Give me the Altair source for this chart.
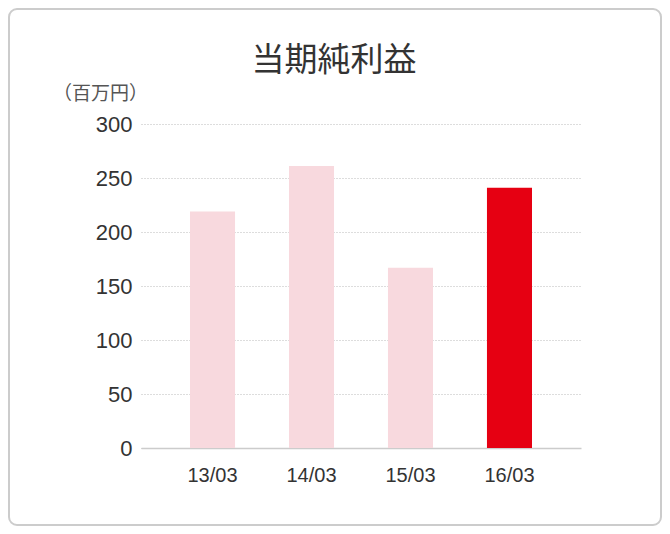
import altair as alt
import pandas as pd

# ---- data ----
periods = ["13/03", "14/03", "15/03", "16/03"]
net_income = [219, 261, 167, 241]
bar_colors = ["#f8d9de", "#f8d9de", "#f8d9de", "#e60012"]
y_ticks = [0, 50, 100, 150, 200, 250, 300]

df = pd.DataFrame({"period": periods, "value": net_income, "color": bar_colors})

W, H = 440, 324
PAD_L, PAD_T, PAD_R, PAD_B = 133, 116, 81, 78

bars = alt.Chart(df).mark_bar().encode(
    x=alt.X(
        "period:N",
        sort=periods,
        scale=alt.Scale(paddingInner=0.545, paddingOuter=0.495),
        axis=alt.Axis(
            title=None, labelAngle=0, ticks=False, tickSize=0,
            domainColor="#cccccc", domainWidth=1.5, grid=False,
            labelFont="Liberation Sans", labelFontSize=20, labelColor="#333333",
            labelPadding=33, labelBaseline="alphabetic",
        ),
    ),
    y=alt.Y(
        "value:Q",
        scale=alt.Scale(domain=[0, 300], nice=False),
        axis=alt.Axis(
            values=y_ticks, title="（百万円）", titleAngle=0, titleX=-41, titleY=-25,
            titleAlign="center", titleBaseline="alphabetic",
            titleFont="Noto Sans CJK JP", titleFontSize=19, titleFontWeight="normal",
            titleColor="#555555",
            domain=False, ticks=False, tickSize=0,
            labelFont="Liberation Sans", labelFontSize=22, labelColor="#333333",
            labelPadding=9,
            grid=True, gridDash=[1, 2], gridColor="#bbbbbb", gridWidth=1,
        ),
    ),
    color=alt.Color("color:N", scale=None, legend=None),
)

border = alt.Chart(pd.DataFrame({"k": [0]})).mark_rect(
    fillOpacity=0, stroke="#cccccc", strokeWidth=2, cornerRadius=8
).encode(
    x=alt.value(-PAD_L + 1), x2=alt.value(W + PAD_R - 1),
    y=alt.value(-PAD_T + 1), y2=alt.value(H + PAD_B - 1),
)

chart = alt.layer(border, bars).properties(
    width=W, height=H,
    autosize=alt.AutoSizeParams(type="none"),
    padding={"left": PAD_L, "top": PAD_T, "right": PAD_R, "bottom": PAD_B},
    title=alt.TitleParams(
        "当期純利益", font="Noto Sans CJK JP", fontSize=33, fontWeight="normal",
        color="#333333", anchor="middle", dx=-27, offset=-70,
    ),
).configure_view(stroke=None)

chart.save("out.html", embed_options={"renderer": "svg", "actions": False})
